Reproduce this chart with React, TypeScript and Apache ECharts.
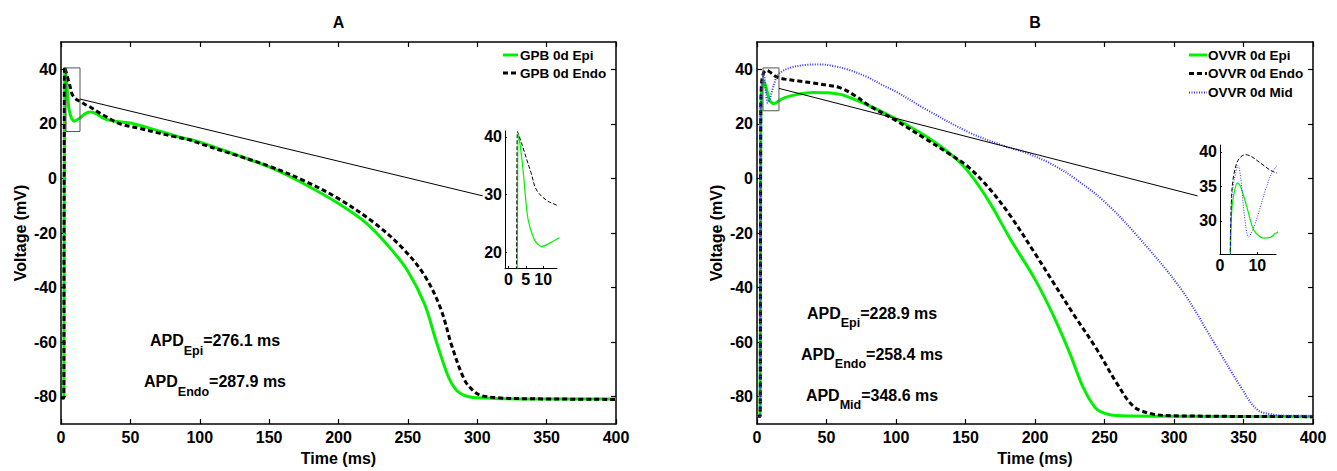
import React, { useEffect, useRef } from "react";
import * as echarts from "echarts";

const FONT = "'Liberation Sans', Arial, Helvetica, sans-serif";

// ---- data ----
const timeTicks = [0, 50, 100, 150, 200, 250, 300, 350, 400];
const voltageTicks = [-80, -60, -40, -20, 0, 20, 40];
const insetATicksX = [0, 5, 10];
const insetATicksY = [20, 30, 40];
const insetBTicksX = [0, 10];
const insetBTicksY = [30, 35, 40];

const gpbEpi: number[][] = [
  [0, -80.5], [2.0, -80.5], [2.3, -20], [2.6, 25], [2.9, 40.3], [3.5, 38], [4.3, 33.7], [5.0, 29],
  [5.7, 25.6], [7.1, 22.7], [8.3, 21.5], [9.5, 21], [11.9, 21.6], [14, 22.3], [17, 23.6], [21, 24.3],
  [25, 23.8], [30, 22.2], [35, 21.3], [45, 20.6], [50, 20.3], [60, 19], [73, 17], [85, 15.2],
  [100, 13.3], [126, 8.7], [150, 4.2], [173, -1.4], [200, -9.2], [220, -16.4], [238, -26],
  [250, -34], [262, -46], [270, -59], [279, -72.5], [284, -77], [288, -78.8], [294, -80], [300, -80.4],
  [330, -80.8], [400, -80.8],
];
const gpbEndo: number[][] = [
  [0, -80.5], [2.0, -80.5], [2.2, -20], [2.4, 25], [2.6, 40.9], [4, 38.5], [5.3, 36], [6.5, 33.8],
  [8.1, 30.8], [11, 29], [13.8, 28.2], [17, 27.2], [21, 26.2], [27, 24.2], [33, 22.5], [42, 20.1],
  [57, 18.3], [70, 16.7], [81, 15.4], [93, 14.1], [100, 12.8], [125, 8.7], [150, 4.5], [175, -0.8],
  [200, -7.4], [226, -16.4], [247, -26], [262, -35.6], [273.5, -47.5], [282, -61.9], [291, -74],
  [298, -78.2], [303, -79.6], [315, -80.4], [330, -80.7], [400, -81],
];
const ovvrEpi: number[][] = [
  [0, -87.2], [2.2, -87.2], [2.5, -30], [2.7, 20], [3.1, 31], [3.6, 33.5], [4.7, 35.5], [5.5, 35],
  [7.2, 32], [9, 28.7], [10.5, 27.8], [11.7, 27.5], [13.5, 27.6], [14.9, 28.2], [20, 29.6], [29, 30.8],
  [40, 31.5], [50, 31.4], [60, 30.8], [70, 29], [81, 26.6], [100, 21.8], [121, 15.6], [139.5, 8.8],
  [152, 2.5], [167, -8.5], [182, -22], [200, -37], [213, -50], [225, -64], [234.5, -76.4],
  [243.7, -84.2], [252, -86.4], [262, -87], [300, -87.2], [400, -87.3],
];
const ovvrEndo: number[][] = [
  [0, -87.2], [2.2, -87.2], [2.5, -30], [2.7, 20], [3.1, 33.5], [4.5, 38.4], [6.8, 39.6], [8.5, 39.3],
  [10.8, 38.4], [14.4, 37.1], [20, 36.4], [30, 35.7], [40, 35], [50, 34.2], [60, 33.2], [70, 30.5],
  [81, 26.6], [100, 21.2], [121, 14.6], [139.5, 8.6], [152, 4.2], [167, -3.6], [182, -13.5],
  [200, -27.5], [213, -38], [228, -50], [243.7, -62], [259, -75.2], [271, -83.6], [283.5, -86.2],
  [300, -87], [400, -87.3],
];
const ovvrMid: number[][] = [
  [0, -87.2], [2.2, -87.2], [2.5, -30], [2.7, 20], [3.1, 33], [4.2, 37], [4.8, 38], [5.5, 36.5],
  [6.5, 31], [7.7, 27.7], [9, 29], [10.8, 32], [12.5, 35], [14.4, 37.4], [18, 39.2], [24, 40.6],
  [35, 41.6], [45, 41.8], [55, 41.2], [66, 39.8], [80, 37], [90, 34.3], [100, 31.8], [121, 25.5],
  [152, 17], [176, 12.2], [194.6, 9.2], [213, 5], [228, 0.2], [250, -8.5], [274, -21.3], [305, -40.5],
  [329.5, -60.8], [348, -76.4], [360, -84.8], [372, -86.6], [385, -87], [400, -87],
];

const zoomBoxA: number[][] = [[3.6, 17.2], [13.7, 17.2], [13.7, 40.5], [3.6, 40.5], [3.6, 17.2]];
const connectorA: number[][] = [[13.7, 29.1], [304, -6.4]];
const zoomBoxB: number[][] = [[4.3, 24.8], [15.8, 24.8], [15.8, 40.5], [4.3, 40.5], [4.3, 24.8]];
const connectorB: number[][] = [[15.8, 33], [317, -6.4]];

const legendA = ["GPB 0d Epi", "GPB 0d Endo"];
const legendB = ["OVVR 0d Epi", "OVVR 0d Endo", "OVVR 0d Mid"];
const apdA = [["Epi", "276.1"], ["Endo", "287.9"]];
const apdB = [["Epi", "228.9"], ["Endo", "258.4"], ["Mid", "348.6"]];

const GREEN = "#00f000";
const BLUE = "#3030ff";

const labelStyle = { color: "#000", fontFamily: FONT, fontSize: 16, fontWeight: "bold" as const };

function mainX(grid: number, position: "top" | "bottom", labels: boolean) {
  return {
    type: "value", gridIndex: grid, position, min: 0, max: 400, interval: 50,
    axisLine: { show: true, onZero: false, lineStyle: { color: "#000", width: 1.5 } },
    axisTick: { show: true, inside: true, length: 5, customValues: timeTicks, lineStyle: { color: "#000", width: 1.2 } },
    axisLabel: { show: labels, margin: 5, customValues: timeTicks, ...labelStyle },
    splitLine: { show: false },
    name: labels ? "Time (ms)" : "", nameLocation: "middle", nameGap: 26,
    nameTextStyle: { ...labelStyle },
  };
}
function mainY(grid: number, position: "left" | "right", labels: boolean) {
  return {
    type: "value", gridIndex: grid, position, min: -90, max: 50,
    axisLine: { show: true, onZero: false, lineStyle: { color: "#000", width: 1.5 } },
    axisTick: { show: true, inside: true, length: 5, customValues: voltageTicks, lineStyle: { color: "#000", width: 1.2 } },
    axisLabel: { show: labels, margin: 4, customValues: voltageTicks, ...labelStyle },
    splitLine: { show: false },
    name: labels ? "Voltage (mV)" : "", nameLocation: "middle", nameGap: 33, nameRotate: 90,
    nameTextStyle: { ...labelStyle },
  };
}
function insetAxis(grid: number, min: number, max: number, ticks: number[]) {
  return {
    type: "value", gridIndex: grid, min, max,
    axisLine: { show: true, onZero: false, lineStyle: { color: "#000", width: 1 } },
    axisTick: { show: true, inside: true, length: 2, customValues: ticks, lineStyle: { color: "#000" } },
    axisLabel: { show: true, margin: 3, customValues: ticks, ...labelStyle },
    splitLine: { show: false },
  };
}

function lineSeries(name: string, data: number[][], xi: number, yi: number, color: string, width: number, dash?: number[] | "solid", z = 2, smooth: number | boolean = 0.35) {
  return {
    type: "line", name, data, xAxisIndex: xi, yAxisIndex: yi, showSymbol: false, symbol: "none",
    smooth, clip: true, z,
    lineStyle: { color, width, type: dash ?? "solid" },
    emphasis: { disabled: true }, silent: true,
  };
}

function legendGraphics(names: string[], styles: any[], x1: number, x2: number, tx: number, ys: number[]) {
  const out: any[] = [];
  names.forEach((n, i) => {
    out.push({
      type: "line", shape: { x1, y1: ys[i], x2, y2: ys[i] },
      style: { stroke: styles[i].color, lineWidth: styles[i].width, lineDash: styles[i].dash || null }, z: 10,
    });
    out.push({
      type: "text", x: tx, y: ys[i],
      style: { text: n, fill: "#000", font: `bold 13.5px ${FONT}`, align: "left", verticalAlign: "middle" }, z: 10,
    });
  });
  return out;
}

function apdGraphics(items: string[][], cx: number, ys: number[]) {
  return items.map((it, i) => ({
    type: "text", x: cx, y: ys[i], z: 10,
    style: {
      text: `{a|APD}{s|${it[0]}}{a|=${it[1]} ms}`,
      align: "center", verticalAlign: "middle",
      rich: {
        a: { fontFamily: FONT, fontSize: 16, fontWeight: "bold", fill: "#000", lineHeight: 18 },
        s: { fontFamily: FONT, fontSize: 12.5, fontWeight: "bold", fill: "#000", lineHeight: 14, padding: [20, 0, 0, 0] },
      },
    },
  }));
}

export default function App() {
  const ref = useRef<HTMLDivElement>(null);
  useEffect(() => {
    if (!ref.current) return;
    const chart = echarts.init(ref.current, undefined, { renderer: "svg" });
    const solidG = { color: GREEN, width: 3 };
    const dashK = { color: "#000", width: 3, dash: [5, 3] };
    const dotB = { color: BLUE, width: 2, dash: [1, 1.5] };
    chart.setOption({
      animation: false,
      backgroundColor: "#fff",
      grid: [
        { left: 61, top: 42, width: 555, height: 389 },
        { left: 757, top: 42, width: 556, height: 389 },
        { left: 505, top: 131, width: 52, height: 137 },
        { left: 1220, top: 145, width: 56, height: 109 },
      ],
      xAxis: [
        mainX(0, "bottom", true), mainX(0, "top", false),
        mainX(1, "bottom", true), mainX(1, "top", false),
        insetAxis(2, -1, 14, insetATicksX), insetAxis(3, 0, 15, insetBTicksX),
      ],
      yAxis: [
        mainY(0, "left", true), mainY(0, "right", false),
        mainY(1, "left", true), mainY(1, "right", false),
        insetAxis(2, 17.3, 41, insetATicksY), insetAxis(3, 25.2, 41, insetBTicksY),
      ],
      series: [
        lineSeries(legendA[0], gpbEpi, 0, 0, GREEN, 3),
        lineSeries(legendA[1], gpbEndo, 0, 0, "#000", 3, [5, 3], 3),
        lineSeries("zoom A", zoomBoxA, 0, 0, "#555", 1, "solid", 4, false),
        lineSeries("link A", connectorA, 0, 0, "#000", 1, "solid", 4, false),
        lineSeries(legendA[0] + " inset", gpbEpi, 4, 4, GREEN, 1.2),
        lineSeries(legendA[1] + " inset", gpbEndo, 4, 4, "#000", 1, [4, 2], 3),

        lineSeries(legendB[0], ovvrEpi, 2, 2, GREEN, 3),
        lineSeries(legendB[1], ovvrEndo, 2, 2, "#000", 3, [5, 3], 3),
        lineSeries(legendB[2], ovvrMid, 2, 2, BLUE, 2, [1, 1.5], 4),
        lineSeries("zoom B", zoomBoxB, 2, 2, "#555", 1, "solid", 5, false),
        lineSeries("link B", connectorB, 2, 2, "#000", 1, "solid", 5, false),
        lineSeries(legendB[0] + " inset", ovvrEpi, 5, 5, GREEN, 1.2),
        lineSeries(legendB[1] + " inset", ovvrEndo, 5, 5, "#000", 1, [4, 2], 3),
        lineSeries(legendB[2] + " inset", ovvrMid, 5, 5, BLUE, 1, [1, 1.5], 4),
      ],
      graphic: [
        { type: "text", x: 338.5, y: 22, style: { text: "A", fill: "#000", font: `bold 16px ${FONT}`, align: "center", verticalAlign: "middle" } },
        { type: "text", x: 1035, y: 22, style: { text: "B", fill: "#000", font: `bold 16px ${FONT}`, align: "center", verticalAlign: "middle" } },
        ...legendGraphics(legendA, [solidG, dashK], 503, 518, 520, [55, 73]),
        ...legendGraphics(legendB, [solidG, dashK, dotB], 1189, 1207, 1208, [55, 73.5, 92.5]),
        ...apdGraphics(apdA, 215, [340.7, 381.7]),
        ...apdGraphics(apdB, 872, [313.3, 354, 395]),
      ],
    });
    return () => chart.dispose();
  }, []);
  return <div ref={ref} style={{ position: "absolute", left: 0, top: 0, width: 1337, height: 471 }} />;
}
